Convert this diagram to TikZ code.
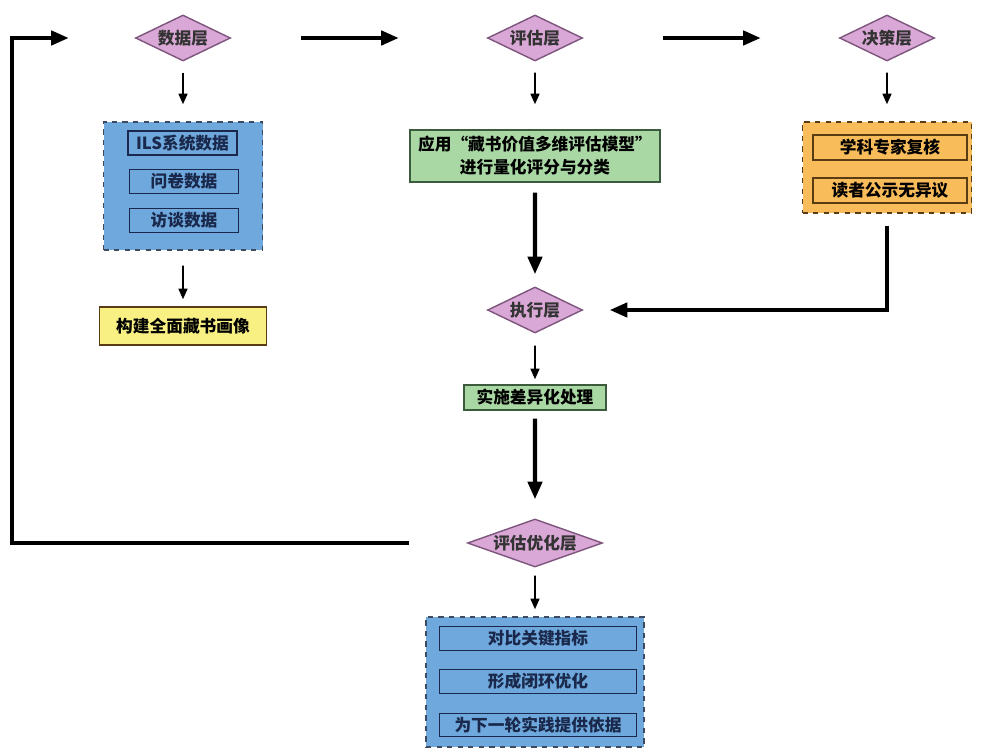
\documentclass[tikz,border=0pt]{standalone}
\usepackage{fontspec}
\setmainfont{Noto Sans CJK SC}
\usepackage{xcolor}
\usetikzlibrary{shapes.geometric,arrows.meta}
\definecolor{layerfill}{RGB}{218,168,214}
\definecolor{layerline}{RGB}{125,85,125}
\definecolor{bluefill}{RGB}{111,168,220}
\definecolor{blueline}{RGB}{60,75,95}
\definecolor{bluetext}{RGB}{25,40,75}
\definecolor{greenfill}{RGB}{170,216,164}
\definecolor{greenline}{RGB}{60,90,60}
\definecolor{yellowfill}{RGB}{248,240,130}
\definecolor{orangefill}{RGB}{248,188,90}
\definecolor{orangeline}{RGB}{90,60,20}

\begin{document}
\begin{tikzpicture}[scale=0.2]
\tikzstyle{every node}+=[inner sep=0pt, font=\fontsize{9.5}{13}\selectfont\bfseries]
\tikzstyle{every label}+=[text=black!80]
\tikzstyle{layer}=[diamond, draw=layerline, fill=layerfill, line width=0.8pt, minimum width=1.9cm, minimum height=0.92cm]
\tikzstyle{outerbox}=[draw, dashed, line width=0.8pt]
\tikzstyle{innerbox}=[draw, line width=0.8pt, minimum height=0.48cm]
\tikzstyle{thin}=[line width=1.1pt, -{Triangle[length=6pt,width=5pt]}]
\tikzstyle{thick}=[line width=2.3pt, -{Triangle[length=10pt,width=8pt]}]
\useasboundingbox (0,0) rectangle (98.4,-75.6);
% top row
\node [layer, label=center:数据层] (dl) at (18.3,-3.8) {};
\node [layer, label=center:评估层] (pg) at (53.5,-3.8) {};
\node [layer, label=center:决策层] (jc) at (88.7,-3.8) {};
\draw [thick, shorten <=1.4cm, shorten >=1.76cm] (dl) -- (pg);
\draw [thick, shorten <=1.6cm, shorten >=1.56cm] (pg) -- (jc);
% data layer
\node [outerbox, draw=blueline, fill=bluefill, minimum width=3.18cm, minimum height=2.56cm] (sj) at (18.3,-18.6) {};
\node [innerbox, draw=bluetext, text=bluetext, minimum width=2.18cm] (ils) at (18.25,-14.3) {ILS系统数据};
\node [innerbox, draw=bluetext, text=bluetext, minimum width=2.18cm] (wj) at (18.4,-18.15) {问卷数据};
\node [innerbox, draw=bluetext, text=bluetext, minimum width=2.18cm] (ft) at (18.4,-22.05) {访谈数据};
\node [draw=orangeline, fill=yellowfill, line width=0.8pt, minimum width=3.34cm, minimum height=0.76cm] (hx) at (18.3,-32.6) {构建全面藏书画像};
\draw [thin, shorten <=0.22cm, shorten >=0.34cm] (dl) -- (sj);
\draw [thin, shorten <=0.3cm, shorten >=0.14cm] (sj) -- (hx);
% evaluation layer
\node [draw=greenline, fill=greenfill, line width=0.8pt, align=center, minimum width=5cm, minimum height=1.04cm] (mx) at (53.5,-15.6) {应用“藏书价值多维评估模型”\\进行量化评分与分类};
\node [layer, label=center:执行层] (zx) at (53.5,-31.0) {};
\draw [thin, shorten <=0.22cm, shorten >=0.5cm] (pg) -- (mx);
\draw [thick, shorten <=0.2cm, shorten >=0.24cm] (mx) -- (zx);
% decision layer
\node [outerbox, draw=orangeline, fill=orangefill, minimum width=3.38cm, minimum height=1.82cm] (fh) at (88.7,-16.75) {};
\node [innerbox, draw=orangeline, minimum width=3.08cm, minimum height=0.5cm] (xk) at (89,-14.75) {学科专家复核};
\node [innerbox, draw=orangeline, minimum width=3.08cm, minimum height=0.5cm] (gs) at (89,-19.05) {读者公示无异议};
\draw [thin, shorten <=0.22cm, shorten >=0.34cm] (jc) -- (fh);
\draw [thick, shorten <=0.24cm, shorten >=0.53cm] (fh) |- (zx);
% execution
\node [draw=greenline, fill=greenfill, line width=0.8pt, minimum width=2.84cm, minimum height=0.5cm] (ss) at (53.5,-39.75) {实施差异化处理};
\node [layer, minimum width=2.7cm, minimum height=0.96cm, label=center:评估优化层] (yh) at (53.5,-54.3) {};
\draw [thin, shorten <=0.24cm, shorten >=0.1cm] (zx) -- (ss);
\draw [thick, shorten <=0.16cm, shorten >=0.38cm] (ss) -- (yh);
% feedback loop
\coordinate (lp) at (1.2,-54.3);
\draw [thick, shorten <=1.16cm, shorten >=1.32cm] (yh.west) -- (lp) |- (dl.west);
% optimisation
\node [outerbox, draw=blueline, fill=bluefill, minimum width=4.36cm, minimum height=2.6cm] (yb) at (53.5,-68.2) {};
\node [innerbox, draw=bluetext, text=bluetext, minimum width=3.94cm, minimum height=0.47cm] (db) at (53.8,-63.85) {对比关键指标};
\node [innerbox, draw=bluetext, text=bluetext, minimum width=3.94cm, minimum height=0.47cm] (bh) at (53.8,-68.15) {形成闭环优化};
\node [innerbox, draw=bluetext, text=bluetext, minimum width=3.94cm, minimum height=0.47cm] (yj) at (53.8,-72.5) {为下一轮实践提供依据};
\draw [thin, shorten <=0.16cm, shorten >=0.14cm] (yh) -- (yb);
\end{tikzpicture}
\end{document}
